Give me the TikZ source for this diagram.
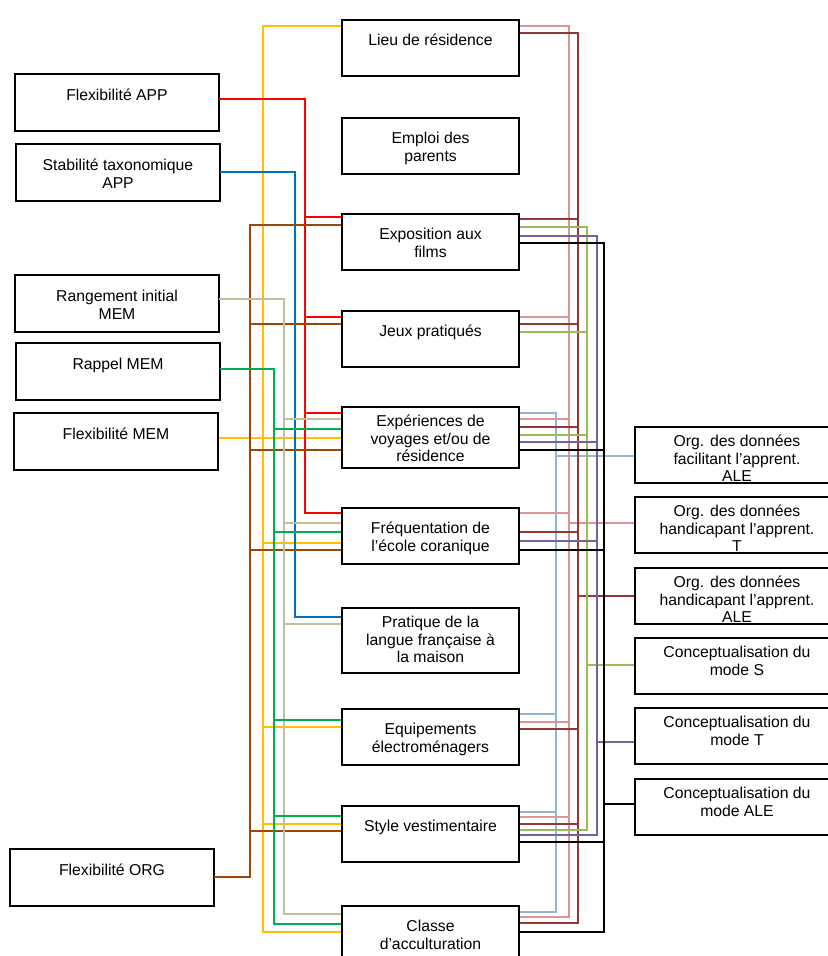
\documentclass[tikz,border=0pt]{standalone}
\usepackage{fontspec}
\setmainfont{Liberation Sans}
\usepackage{xcolor}
\usepackage{tikz}
\definecolor{linkyellow}{HTML}{FFC000}
\definecolor{linkred}{HTML}{FF0000}
\definecolor{linkblue}{HTML}{0070C0}
\definecolor{linkbrown}{HTML}{984807}
\definecolor{linktan}{HTML}{C4BD97}
\definecolor{linkgreen}{HTML}{00B050}
\definecolor{linksky}{HTML}{95B3D7}
\definecolor{linkrose}{HTML}{D99694}
\definecolor{linkmaroon}{HTML}{953735}
\definecolor{linkolive}{HTML}{9BBB59}
\definecolor{linkpurple}{HTML}{7860A0}
\newcommand{\cellfont}{\fontsize{15.8pt}{17.8pt}\selectfont}

\begin{document}
\begin{tikzpicture}[x=1bp, y=-1bp,
  cell/.style n args={3}{draw, line width=2bp, inner sep=0pt, outer sep=0pt, font=\cellfont,
    execute at begin node={\begin{minipage}[c][#2][t]{#1}\centering\vspace*{#3}\rule{0pt}{15pt}},
    execute at end node={\end{minipage}}},
  leftbox/.style={cell={204bp}{57bp}{11.5bp}},
  midbox/.style={cell={177bp}{#1}{11bp}}, midbox/.default=56bp,
  midboxtall/.style={cell={177bp}{#1}{4.5bp}},
  rightbox/.style={cell={204bp}{56bp}{4.5bp}},
  link/.style={line width=2bp},
  bus/.style={line width=2bp, line cap=rect}]

  \useasboundingbox (0,0) rectangle (828,956);

  % sources
  \node[leftbox] (flexapp) at (117,102.5) {Flexibilité APP};
  \node[leftbox] (stabapp) at (118,172.5) {Stabilité taxonomique\\APP};
  \node[leftbox] (rangmem) at (117,303.5) {Rangement initial\\MEM};
  \node[leftbox] (rappmem) at (118,371.5) {Rappel MEM};
  \node[leftbox] (flexmem) at (116,441.5) {Flexibilité MEM};
  \node[leftbox] (flexorg) at (112,877.5) {Flexibilité ORG};

  % middle column
  \node[midbox] (lieu) at (430.5,48) {Lieu de résidence};
  \node[midbox] (emploi) at (430.5,146) {Emploi des\\parents};
  \node[midbox] (expo) at (430.5,242) {Exposition aux\\films};
  \node[midbox] (jeux) at (430.5,339) {Jeux pratiqués};
  \node[midboxtall=61bp] (expe) at (430.5,437.5) {Expériences de\\voyages et/ou de\\résidence};
  \node[midbox] (freq) at (430.5,536) {Fréquentation de\\l’école coranique};
  \node[midboxtall=65bp] (prat) at (430.5,640.5) {Pratique de la\\langue française à\\la maison};
  \node[midbox] (equi) at (430.5,737) {Equipements\\électroménagers};
  \node[midbox] (style) at (430.5,834) {Style vestimentaire};
  \node[midbox] (classe) at (430.5,934) {Classe\\d’acculturation};

  % targets
  \node[rightbox] (orgfac) at (737,455) {Org. des données\\facilitant l’apprent.\\ALE};
  \node[rightbox] (orghant) at (737,525) {Org. des données\\handicapant l’apprent.\\T};
  \node[rightbox] (orghana) at (737,596) {Org. des données\\handicapant l’apprent.\\ALE};
  \node[rightbox] (concs) at (737,666) {Conceptualisation du\\mode S};
  \node[rightbox] (conct) at (737,736) {Conceptualisation du\\mode T};
  \node[rightbox] (conca) at (737,807) {Conceptualisation du\\mode ALE};

  \coordinate (nbus) at (250,0);
  \coordinate (ybus) at (263,0);
  \coordinate (gbus) at (274,0);
  \coordinate (tbus) at (284,0);
  \coordinate (bbus) at (295,0);
  \coordinate (rbus) at (305,0);
  \coordinate (lbus) at (556,0);
  \coordinate (pbus) at (569,0);
  \coordinate (dbus) at (578,0);
  \coordinate (ebus) at (587,0);
  \coordinate (ubus) at (597,0);
  \coordinate (kbus) at (604,0);

  % left buses
  \foreach \n/\d in {lieu/6, expe/31, freq/35, equi/18, style/18, classe/26}
    \draw[link, linkyellow] (\n.north west) ++(-1,\d) coordinate (Y\n) -- (Y\n -| ybus);
  \draw[link, linkyellow] (flexmem.east) ++(1,-3.5) coordinate (Ysrc) -- (Ysrc -| ybus);
  \draw[bus, linkyellow] (Ylieu -| ybus) -- (Yclasse -| ybus);

  \foreach \n/\d in {expo/3, jeux/6, expe/6, freq/5}
    \draw[link, linkred] (\n.north west) ++(-1,\d) coordinate (R\n) -- (R\n -| rbus);
  \draw[bus, linkred] (flexapp.east) ++(1,-3.5) coordinate (Rsrc) -- (Rsrc -| rbus) -- (Rfreq -| rbus);

  \draw[link, linkblue] (prat.north west) ++(-1,9) coordinate (Bprat) -- (Bprat -| bbus);
  \draw[bus, linkblue] (stabapp.east) ++(1,-0.5) coordinate (Bsrc) -- (Bsrc -| bbus) -- (Bprat -| bbus);

  \foreach \n/\d in {expo/11, jeux/13, expe/43, freq/42, style/25}
    \draw[link, linkbrown] (\n.north west) ++(-1,\d) coordinate (N\n) -- (N\n -| nbus);
  \draw[bus, linkbrown] (flexorg.east) ++(1,-0.5) coordinate (Nsrc) -- (Nsrc -| nbus) -- (Nexpo -| nbus);

  \foreach \n/\d in {expe/12, freq/15, prat/16, classe/8}
    \draw[link, linktan] (\n.north west) ++(-1,\d) coordinate (T\n) -- (T\n -| tbus);
  \draw[bus, linktan] (rangmem.east) ++(1,-4.5) coordinate (Tsrc) -- (Tsrc -| tbus) -- (Tclasse -| tbus);

  \foreach \n/\d in {expe/22, freq/24, equi/11, style/10, classe/18}
    \draw[link, linkgreen] (\n.north west) ++(-1,\d) coordinate (G\n) -- (G\n -| gbus);
  \draw[bus, linkgreen] (rappmem.east) ++(1,-2.5) coordinate (Gsrc) -- (Gsrc -| gbus) -- (Gclasse -| gbus);

  % right buses
  \foreach \n/\d in {expe/6, equi/5, style/6, classe/6}
    \draw[link, linksky] (\n.north east) ++(1,\d) coordinate (L\n) -- (L\n -| lbus);
  \draw[link, linksky] (orgfac.west) ++(-1,1) coordinate (Ldst) -- (Ldst -| lbus);
  \draw[bus, linksky] (Lexpe -| lbus) -- (Lclasse -| lbus);

  \foreach \n/\d in {lieu/6, jeux/6, expe/12, freq/5, equi/13, style/11, classe/11}
    \draw[link, linkrose] (\n.north east) ++(1,\d) coordinate (P\n) -- (P\n -| pbus);
  \draw[link, linkrose] (orghant.west) ++(-1,-2) coordinate (Pdst) -- (Pdst -| pbus);
  \draw[bus, linkrose] (Plieu -| pbus) -- (Pclasse -| pbus);

  \foreach \n/\d in {lieu/13, expo/5, jeux/13, expe/20, freq/24, equi/20, style/18, classe/17}
    \draw[link, linkmaroon] (\n.north east) ++(1,\d) coordinate (D\n) -- (D\n -| dbus);
  \draw[link, linkmaroon] (orghana.west) ++(-1,0) coordinate (Ddst) -- (Ddst -| dbus);
  \draw[bus, linkmaroon] (Dlieu -| dbus) -- (Dclasse -| dbus);

  \foreach \n/\d in {expo/13, jeux/21, expe/28, style/24}
    \draw[link, linkolive] (\n.north east) ++(1,\d) coordinate (E\n) -- (E\n -| ebus);
  \draw[link, linkolive] (concs.west) ++(-1,-1) coordinate (Edst) -- (Edst -| ebus);
  \draw[bus, linkolive] (Eexpo -| ebus) -- (Estyle -| ebus);

  \foreach \n/\d in {expo/22, expe/35, freq/33, style/29}
    \draw[link, linkpurple] (\n.north east) ++(1,\d) coordinate (U\n) -- (U\n -| ubus);
  \draw[link, linkpurple] (conct.west) ++(-1,6) coordinate (Udst) -- (Udst -| ubus);
  \draw[bus, linkpurple] (Uexpo -| ubus) -- (Ustyle -| ubus);

  \foreach \n/\d in {expo/29, expe/43, freq/42, style/36, classe/26}
    \draw[link, black] (\n.north east) ++(1,\d) coordinate (K\n) -- (K\n -| kbus);
  \draw[link, black] (conca.west) ++(-1,-3) coordinate (Kdst) -- (Kdst -| kbus);
  \draw[bus, black] (Kexpo -| kbus) -- (Kclasse -| kbus);
\end{tikzpicture}
\end{document}
